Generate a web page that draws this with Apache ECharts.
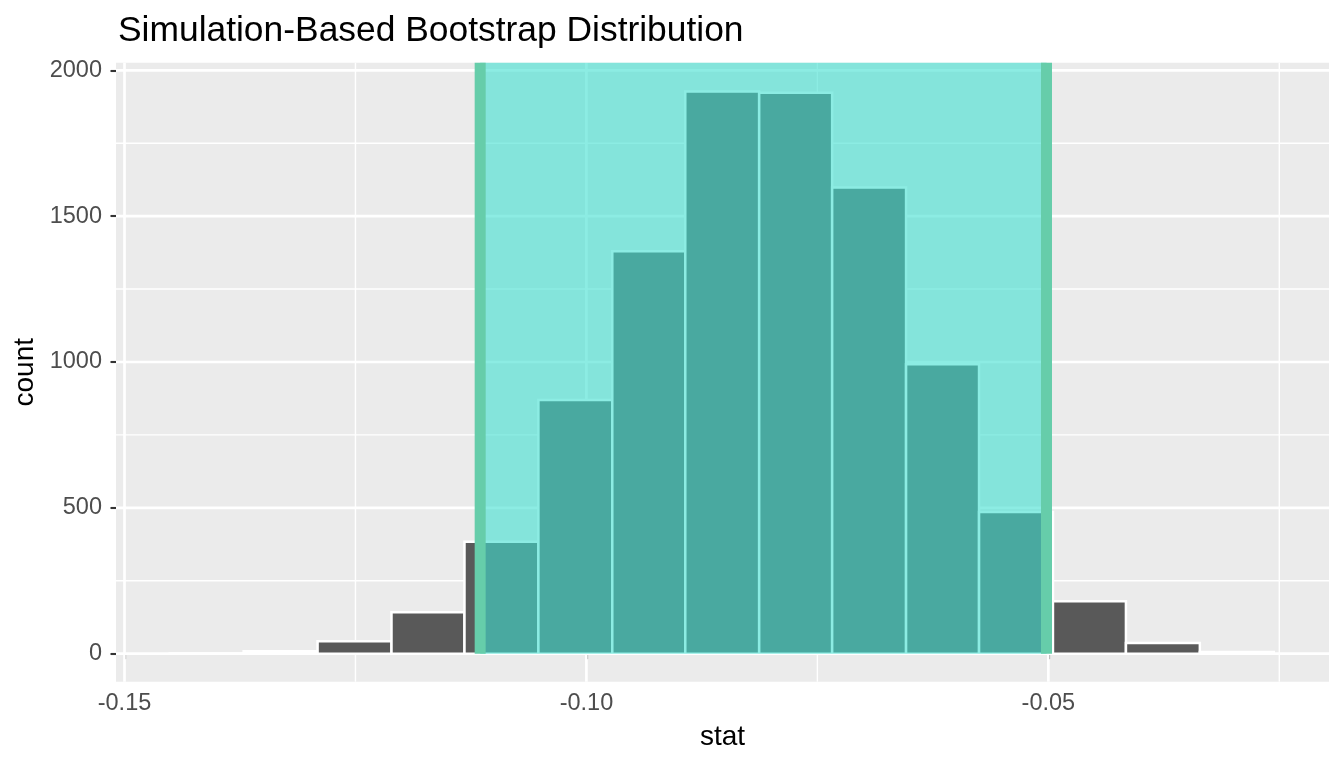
<!DOCTYPE html>
<html>
<head>
<meta charset="utf-8">
<script src="https://cdn.jsdelivr.net/npm/echarts@6/dist/echarts.min.js"></script>
<style>
  html, body { margin: 0; padding: 0; background: #fff; }
  #chart { width: 1344px; height: 768px; }
</style>
</head>
<body>
<div id="chart"></div>
<script>
// bootstrap distribution: 15 bins
const binEdges = [-0.1451, -0.1371, -0.1291, -0.1211, -0.1132, -0.1052, -0.0972, -0.0893,
                  -0.0813, -0.0734, -0.0654, -0.0575, -0.0495, -0.0416, -0.0336, -0.0256];
const binCounts = [1, 8, 43, 142, 384, 870, 1380, 1927, 1923, 1598, 992, 486, 180, 37, 6];

// confidence interval
const ciBounds = [-0.1115, -0.0502];

// ticks / grid
const xMajor = [-0.15, -0.10, -0.05];
const xMinor = [-0.125, -0.075, -0.025];
const yMajor = [0, 500, 1000, 1500, 2000];
const yMinor = [250, 750, 1250, 1750];
const xTickLabels = ['-0.15', '-0.10', '-0.05'];

const X_MIN = -0.15092, X_MAX = -0.01962;
const Y_MIN = -96, Y_MAX = 2026;

const FONT = '"Liberation Sans", Arial, sans-serif';

function vGrid(values, width) {
  return {
    type: 'custom', silent: true, z: 1,
    data: values.map(v => [v, 0]),
    encode: { x: 0, y: 1 },
    renderItem: (params, api) => {
      const cs = params.coordSys;
      const p = api.coord([api.value(0), 0]);
      return { type: 'line', shape: { x1: p[0], y1: cs.y, x2: p[0], y2: cs.y + cs.height },
               style: { stroke: '#ffffff', lineWidth: width } };
    }
  };
}
function hGrid(values, width) {
  return {
    type: 'custom', silent: true, z: 1,
    data: values.map(v => [X_MIN, v]),
    encode: { x: 0, y: 1 },
    renderItem: (params, api) => {
      const cs = params.coordSys;
      const p = api.coord([X_MIN, api.value(1)]);
      return { type: 'line', shape: { x1: cs.x, y1: p[1], x2: cs.x + cs.width, y2: p[1] },
               style: { stroke: '#ffffff', lineWidth: width } };
    }
  };
}

const histData = binCounts.map((c, i) => [binEdges[i], binEdges[i + 1], c]);

const chart = echarts.init(document.getElementById('chart'), null, { renderer: 'canvas' });

const option = {
  animation: false,
  backgroundColor: '#ffffff',
  title: {
    text: 'Simulation-Based Bootstrap Distribution',
    left: 113, top: 9,
    textStyle: { fontFamily: FONT, fontSize: 35.4, fontWeight: 'normal', color: '#000000' }
  },
  grid: { left: 116, right: 15, top: 62.7, bottom: 86.3, show: true, backgroundColor: '#EBEBEB', borderWidth: 0 },
  xAxis: {
    type: 'value', min: X_MIN, max: X_MAX,
    name: 'stat', nameLocation: 'middle', nameGap: 42,
    nameTextStyle: { fontFamily: FONT, fontSize: 28, color: '#000000' },
    axisLine: { show: false },
    axisTick: { show: true, customValues: xMajor, length: 5.5, lineStyle: { color: '#333333', width: 2.1 } },
    axisLabel: {
      customValues: xMajor, margin: 10,
      fontFamily: FONT, fontSize: 23.5, color: '#4D4D4D',
      formatter: v => xTickLabels[xMajor.findIndex(m => Math.abs(m - v) < 1e-9)] ?? ''
    },
    splitLine: { show: false }
  },
  yAxis: {
    type: 'value', min: Y_MIN, max: Y_MAX,
    name: 'count', nameLocation: 'middle', nameGap: 68, nameRotate: 90,
    nameTextStyle: { fontFamily: FONT, fontSize: 28, color: '#000000' },
    axisLine: { show: false },
    axisTick: { show: true, customValues: yMajor, length: 5.5, lineStyle: { color: '#333333', width: 2.1 } },
    axisLabel: {
      customValues: yMajor, margin: 14, fontFamily: FONT, fontSize: 23.5, color: '#4D4D4D',
      formatter: v => String(v)
    },
    splitLine: { show: false }
  },
  series: [
    vGrid(xMinor, 1.4),
    hGrid(yMinor, 1.4),
    vGrid(xMajor, 2.7),
    hGrid(yMajor, 2.7),
    {
      name: 'count', type: 'custom', z: 2,
      data: histData,
      encode: { x: [0, 1], y: 2 },
      renderItem: (params, api) => {
        const p0 = api.coord([api.value(0), 0]);
        const p1 = api.coord([api.value(1), api.value(2)]);
        return {
          type: 'rect',
          shape: { x: p0[0], y: p1[1], width: p1[0] - p0[0], height: p0[1] - p1[1] },
          style: { fill: '#595959', stroke: '#ffffff', lineWidth: 2.5 }
        };
      }
    },
    {
      name: 'ci', type: 'custom', z: 3, silent: true,
      data: [ciBounds],
      encode: { x: [0, 1] },
      renderItem: (params, api) => {
        const cs = params.coordSys;
        const a = api.coord([api.value(0), 0]);
        const b = api.coord([api.value(1), 0]);
        return {
          type: 'group',
          children: [
            { type: 'rect', shape: { x: a[0], y: cs.y, width: b[0] - a[0], height: a[1] - cs.y },
              style: { fill: '#40E0D0', opacity: 0.6 } },
            { type: 'line', shape: { x1: a[0], y1: cs.y, x2: a[0], y2: a[1] },
              style: { stroke: '#66CDAA', lineWidth: 11, lineCap: 'butt' } },
            { type: 'line', shape: { x1: b[0], y1: cs.y, x2: b[0], y2: b[1] },
              style: { stroke: '#66CDAA', lineWidth: 11, lineCap: 'butt' } }
          ]
        };
      }
    }
  ]
};

chart.setOption(option);
</script>
</body>
</html>
